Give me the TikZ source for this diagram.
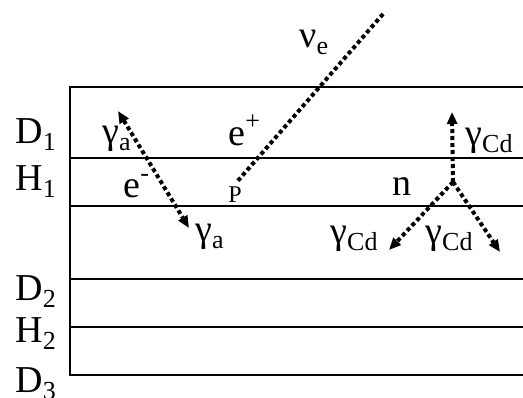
\documentclass[tikz,border=0pt]{standalone}
\usepackage{fontspec}
\setmainfont{Liberation Serif}
\usetikzlibrary{arrows.meta}
\tikzset{
  >={Triangle[length=6pt,width=5pt]},
  layer/.style={line width=1pt,black},
  track/.style={line width=2pt,dash pattern=on 2pt off 1.5pt},
  lab/.style={font=\fontsize{19}{21}\selectfont,inner sep=0pt,anchor=base west},
  small/.style={font=\fontsize{12}{14}\selectfont,inner sep=0pt,anchor=base west},
}
\newcommand{\lo}[1]{\raisebox{-0.45ex}{\fontsize{13}{14}\selectfont #1}}
\newcommand{\hi}[1]{\raisebox{0.9ex}{\fontsize{13}{14}\selectfont #1}}

\begin{document}
\begin{tikzpicture}[x=0.5pt,y=0.5pt]
\useasboundingbox (0,0) rectangle (523,397);

% ---------- detector layers ----------
\draw[layer] (523,310) -- (70,310) -- (70,22) -- (523,22);
\foreach \y in {239,191,118,70}
  \draw[layer] (70,\y) -- (523,\y);

% ---------- layer labels ----------
\node[lab] (D1) at (15,254) {D\lo{1}};
\node[lab] (H1) at (15,207) {H\lo{1}};
\node[lab] (D2) at (15,97) {D\lo{2}};
\node[lab] (H2) at (15,55) {H\lo{2}};
\node[lab] (D3) at (15,5) {D\lo{3}};

% ---------- event points ----------
\coordinate (nuIn) at (383,383);
\coordinate (vtxP) at (236,214);
\coordinate (gaUp) at (118,286);
\coordinate (gaDn) at (189,169);
\coordinate (vtxN) at (453,215);
\coordinate (cdUp) at (452,285);
\coordinate (cdL) at (389,147);
\coordinate (cdR) at (500,145);

% ---------- tracks ----------
\draw[track] (nuIn) -- (vtxP);
\draw[track,<->] (gaUp) -- (gaDn);
\draw[track,->] (vtxN) -- (cdUp);
\draw[track,->] (vtxN) -- (cdL);
\draw[track,->] (vtxN) -- (cdR);

% ---------- particle labels ----------
\node[lab] (nuLab) at (299,350) {ν\lo{e}};
\node[lab] (epLab) at (228,252) {e\hi{+}};
\node[lab] (emLab) at (123,200) {e\hi{-}};
\node[small] (pLab) at (228,195) {P};
\node[lab] (gaLab1) at (102,254) {γ\lo{a}};
\node[lab] (gaLab2) at (195,156) {γ\lo{a}};
\node[lab] (nLab) at (392,202) {n};
\node[lab] (cdLab1) at (465,252) {γ\lo{Cd}};
\node[lab] (cdLab2) at (330,154) {γ\lo{Cd}};
\node[lab] (cdLab3) at (425,154) {γ\lo{Cd}};

\end{tikzpicture}
\end{document}
